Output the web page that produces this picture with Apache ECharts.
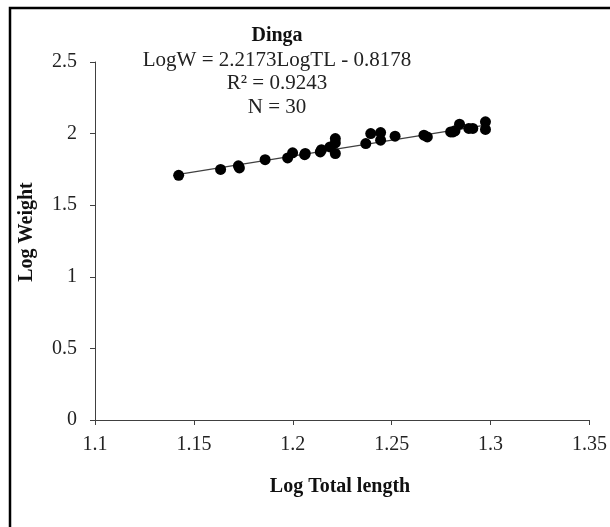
<!DOCTYPE html>
<html>
<head>
<meta charset="utf-8">
<script src="https://cdn.jsdelivr.net/npm/echarts@6/dist/echarts.min.js"></script>
<style>
html,body{margin:0;padding:0;background:#fff;}
#chart{width:610px;height:527px;}
</style>
</head>
<body>
<div id="chart"></div>
<script>
// Data
const logTL = [1.1423, 1.1635, 1.1725, 1.1730, 1.1860, 1.1974, 1.1999, 1.2063, 1.2139, 1.2145,
               1.2188, 1.2215, 1.2215, 1.2215, 1.2369, 1.2394, 1.2444, 1.2444, 1.2517, 1.2663,
               1.2680, 1.2798, 1.2810, 1.2820, 1.2843, 1.2890, 1.2910, 1.2974, 1.2974, 1.2060];
const logW  = [1.709, 1.750, 1.775, 1.760, 1.818, 1.830, 1.866, 1.861, 1.872, 1.888,
               1.907, 1.965, 1.935, 1.861, 1.930, 2.000, 2.007, 1.954, 1.982, 1.989,
               1.977, 2.012, 2.012, 2.020, 2.066, 2.036, 2.036, 2.082, 2.029, 1.853];
const trendX = [1.1423, 1.2974];
const trendY = [1.715, 2.059];
const titleLines = ['Dinga', 'LogW = 2.2173LogTL - 0.8178', 'R\u00B2 = 0.9243', 'N = 30'];
const xName = 'Log Total length';
const yName = 'Log Weight';

const FONT = '"Liberation Serif", "Times New Roman", serif';
const chart = echarts.init(document.getElementById('chart'));
const points = logTL.map((x, i) => [x, logW[i]]);
const trend = trendX.map((x, i) => [x, trendY[i]]);

const axisCommon = {
  axisLine: {show: true, lineStyle: {color: '#404040', width: 1}},
  axisTick: {show: true, inside: false, length: 5, lineStyle: {color: '#404040', width: 1}},
  splitLine: {show: false},
  axisLabel: {color: '#222', fontFamily: FONT, fontSize: 20}
};

chart.setOption({
  animation: false,
  backgroundColor: '#fff',
  grid: {left: 95, right: 19, top: 62, bottom: 107, containLabel: false},
  xAxis: Object.assign({}, axisCommon, {
    type: 'value', min: 1.1, max: 1.35, interval: 0.05,
    axisLabel: Object.assign({}, axisCommon.axisLabel, {margin: 15})
  }),
  yAxis: Object.assign({}, axisCommon, {
    type: 'value', min: 0, max: 2.5, interval: 0.5,
    axisLabel: Object.assign({}, axisCommon.axisLabel, {margin: 18})
  }),
  graphic: [
    {type: 'rect', silent: true, shape: {x: 10, y: 8, width: 700, height: 700},
     style: {fill: 'none', stroke: '#000', lineWidth: 2.5}},
    {type: 'text', x: 277, y: 36, style: {text: titleLines[0], font: 'bold 20px ' + FONT, fill: '#111', textAlign: 'center', textVerticalAlign: 'middle'}},
    {type: 'text', x: 277, y: 60, style: {text: titleLines[1], font: '21px ' + FONT, fill: '#222', textAlign: 'center', textVerticalAlign: 'middle'}},
    {type: 'text', x: 277, y: 83, style: {text: titleLines[2], font: '21px ' + FONT, fill: '#222', textAlign: 'center', textVerticalAlign: 'middle'}},
    {type: 'text', x: 277, y: 107, style: {text: titleLines[3], font: '21px ' + FONT, fill: '#222', textAlign: 'center', textVerticalAlign: 'middle'}},
    {type: 'text', x: 340, y: 487, style: {text: xName, font: 'bold 20px ' + FONT, fill: '#111', textAlign: 'center', textVerticalAlign: 'middle'}},
    {type: 'text', x: 27, y: 232, rotation: Math.PI / 2, style: {text: yName, font: 'bold 20px ' + FONT, fill: '#111', textAlign: 'center', textVerticalAlign: 'middle'}}
  ],
  series: [
    {type: 'line', data: trend, symbol: 'none', lineStyle: {color: '#404040', width: 1.2}, z: 2},
    {type: 'scatter', data: points, symbol: 'circle', symbolSize: 11, itemStyle: {color: '#000', opacity: 1}, z: 3}
  ]
});
</script>
</body>
</html>
